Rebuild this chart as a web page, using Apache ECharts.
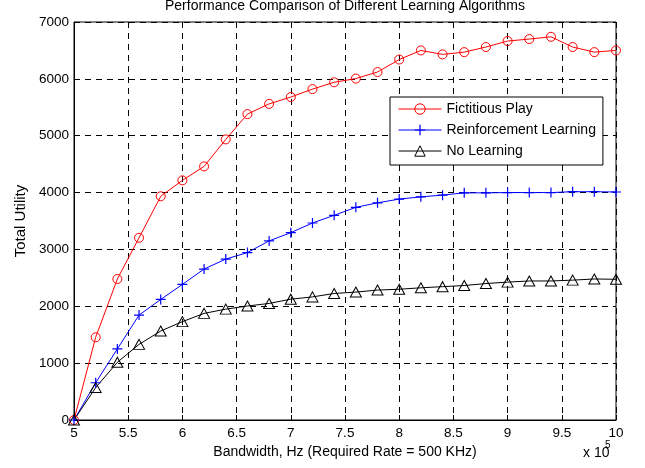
<!DOCTYPE html>
<html>
<head>
<meta charset="utf-8">
<script src="https://cdn.jsdelivr.net/npm/echarts@6/dist/echarts.min.js"></script>
<style>
html, body { margin: 0; padding: 0; background: #fff; }
#chart { width: 645px; height: 468px; }
</style>
</head>
<body>
<div id="chart"></div>
<script>
// data (bandwidth in units of 1e5 Hz)
var bandwidth = [5, 5.2, 5.4, 5.6, 5.8, 6, 6.2, 6.4, 6.6, 6.8, 7, 7.2, 7.4, 7.6, 7.8, 8, 8.2, 8.4, 8.6, 8.8, 9, 9.2, 9.4, 9.6, 9.8, 10];
var fictitiousPlay = [0, 1455, 2480, 3205, 3935, 4215, 4460, 4935, 5380, 5560, 5680, 5820, 5940, 6005, 6120, 6340, 6500, 6430, 6470, 6560, 6665, 6700, 6740, 6560, 6470, 6500];
var reinforcement = [0, 655, 1250, 1845, 2120, 2385, 2655, 2830, 2945, 3150, 3295, 3465, 3600, 3740, 3820, 3885, 3925, 3955, 3995, 3995, 4000, 4000, 4000, 4015, 4015, 4010];
var noLearning = [0, 570, 1015, 1330, 1565, 1730, 1875, 1950, 2005, 2050, 2125, 2165, 2225, 2250, 2285, 2300, 2325, 2345, 2365, 2400, 2425, 2445, 2445, 2460, 2480, 2475];
var xTicks = [5, 5.5, 6, 6.5, 7, 7.5, 8, 8.5, 9, 9.5, 10];

function pairs(ys) {
    return bandwidth.map(function (x, i) { return [x, ys[i]]; });
}

var font = 'Arial, "Liberation Sans", sans-serif';
var plusSymbol = 'path://M-0.6,-5H0.6V5H-0.6Z M-5,-0.6H5V0.6H-5Z';
var dash = { color: '#000', type: [6, 5], width: 1 };
var clear = 'rgba(0,0,0,0)';

var myChart = echarts.init(document.getElementById('chart'));

var option = {
    backgroundColor: '#fff',
    animation: false,
    title: {
        text: 'Performance Comparison of Different Learning Algorithms',
        left: 345,
        textAlign: 'center',
        top: -1,
        padding: 0,
        textStyle: { fontFamily: font, fontSize: 14, fontWeight: 'normal', color: '#000' }
    },
    grid: {
        left: 74, right: 29, top: 22, bottom: 48,
        show: true, borderColor: '#000', borderWidth: 1
    },
    legend: {
        orient: 'vertical',
        left: 390, top: 97,
        padding: [5, 7, 7, 8],
        itemGap: 7,
        itemWidth: 43, itemHeight: 13,
        backgroundColor: '#fff',
        borderColor: '#000', borderWidth: 1,
        borderRadius: 0,
        itemStyle: { borderWidth: 1 },
        lineStyle: { width: 1 },
        textStyle: { fontFamily: font, fontSize: 14, color: '#000' },
        data: ['Fictitious Play', 'Reinforcement Learning', 'No Learning']
    },
    xAxis: {
        type: 'value',
        min: 5, max: 10, interval: 0.5,
        name: 'Bandwidth, Hz (Required Rate = 500 KHz)',
        nameLocation: 'middle',
        nameGap: 23,
        nameTextStyle: { fontFamily: font, fontSize: 14, color: '#000' },
        axisLine: { lineStyle: { color: '#000' } },
        axisTick: { inside: true, length: 5, lineStyle: { color: '#000' } },
        axisLabel: {
            fontFamily: font, fontSize: 13.5, color: '#000', margin: 6,
            customValues: xTicks,
            formatter: function (v) { return String(v); }
        },
        splitLine: { show: true, lineStyle: dash }
    },
    yAxis: {
        type: 'value',
        min: 0, max: 7000, interval: 1000,
        name: 'Total Utility',
        nameLocation: 'middle',
        nameGap: 42,
        nameTextStyle: { fontFamily: font, fontSize: 15, color: '#000' },
        axisLine: { show: true, lineStyle: { color: '#000' } },
        axisTick: { show: true, inside: true, length: 5, lineStyle: { color: '#000' } },
        axisLabel: {
            fontFamily: font, fontSize: 13.5, color: '#000', margin: 5,
            formatter: function (v) { return String(v); }
        },
        splitLine: { show: true, lineStyle: dash }
    },
    graphic: [
        { type: 'text', left: 583, top: 446, style: { text: 'x 10', font: '14px ' + font, fill: '#000' } },
        { type: 'text', left: 605, top: 440, style: { text: '5', font: '10px ' + font, fill: '#000' } }
    ],
    series: [
        {
            name: 'Fictitious Play',
            type: 'line',
            data: pairs(fictitiousPlay),
            lineStyle: { width: 1, color: '#ff0000' },
            symbol: 'circle', symbolSize: 9,
            itemStyle: { color: clear, borderColor: '#ff0000', borderWidth: 1 }
        },
        {
            name: 'Reinforcement Learning',
            type: 'line',
            data: pairs(reinforcement),
            lineStyle: { width: 1, color: '#0000ff' },
            symbol: plusSymbol, symbolSize: 10,
            itemStyle: { color: '#0000ff' }
        },
        {
            name: 'No Learning',
            type: 'line',
            data: pairs(noLearning),
            lineStyle: { width: 1, color: '#000' },
            symbol: 'triangle', symbolSize: [11, 10],
            itemStyle: { color: clear, borderColor: '#000', borderWidth: 1 }
        }
    ]
};

myChart.setOption(option);
</script>
</body>
</html>
